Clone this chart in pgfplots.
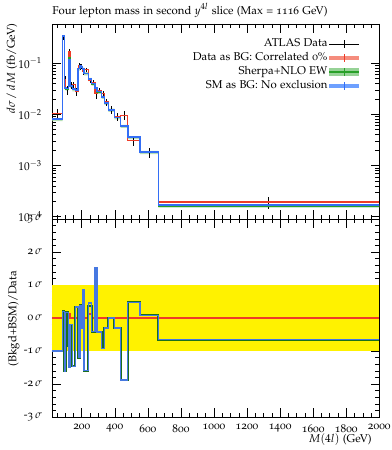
\documentclass[border=0pt]{standalone}
\usepackage[T1]{fontenc}
\usepackage[osf]{mathpazo}
\usepackage{pgfplots}
\usepackage{pgfplotstable}
\pgfplotsset{compat=1.18}
\usepgfplotslibrary{fillbetween}
\definecolor{myred}{RGB}{238,60,40}
\definecolor{mylightred}{RGB}{245,140,125}
\definecolor{myblue}{RGB}{51,110,245}
\definecolor{mylightblue}{RGB}{110,160,255}
\definecolor{mygreen}{RGB}{40,160,40}
\definecolor{mybandgreen}{RGB}{150,210,150}

\pgfplotstableread{
lo data red green blue
20 0.0103 0.0105 0.0079 0.0081
84 0.32 0.33 0.33 0.34
95 0.046 0.048 0.033 0.033
103 0.030 0.030 0.031 0.032
119 0.16 0.165 0.13 0.115
129 0.037 0.037 0.035 0.036
143 0.038 0.038 0.030 0.031
161 0.028 0.028 0.029 0.030
179 0.09 0.09 0.077 0.078
189 0.084 0.084 0.086 0.088
195 0.087 0.087 0.082 0.084
205 0.068 0.069 0.076 0.077
214 0.074 0.075 0.062 0.063
240 0.046 0.046 0.048 0.049
260 0.042 0.042 0.039 0.040
280 0.025 0.025 0.032 0.033
292 0.029 0.029 0.027 0.028
320 0.025 0.025 0.0215 0.022
337 0.0175 0.0175 0.0165 0.0168
361 0.0122 0.0122 0.012 0.0122
397 0.0089 0.0089 0.0085 0.0086
435 0.0096 0.0096 0.0058 0.0059
478 0.0031 0.0031 0.0035 0.0036
552 0.0018 0.0018 0.0018 0.00185
663 0.00019 0.000193 0.000162 0.000168
2000 0.00019 0.000193 0.000162 0.000168
}\toptab

\pgfplotstableread{
c v xe ye
52 0.0103 32 0.0022
89.5 0.32 5.5 0.04
99 0.046 4 0.009
111 0.030 8 0.006
124 0.16 5 0.03
136 0.037 7 0.006
152 0.038 9 0.005
170 0.028 9 0.005
184 0.09 5 0.011
192 0.084 3 0.011
200 0.087 5 0.011
209.5 0.068 4.5 0.01
227 0.074 13 0.007
250 0.046 10 0.006
270 0.042 10 0.005
286 0.025 6 0.005
306 0.029 14 0.0035
328.5 0.025 8.5 0.0035
349 0.0175 12 0.0027
379 0.0122 18 0.002
416 0.0089 19 0.0015
456.5 0.0096 21.5 0.002
515 0.0031 37 0.0007
607.5 0.0018 55.5 0.0004
1331.5 0.00019 668.5 0.00005
}\datatab

\pgfplotstableread{
lo blue green red
20 -1.0 -1.0 0
84 0.2 0.2 0
95 -1.63 -1.6 0
103 0.17 0.17 0
119 -1.48 -0.85 0.12
129 -0.2 -0.2 0
143 -1.46 -1.46 0
161 0.33 0.33 0
179 -1.18 -1.2 0
189 0.38 0.38 0
195 -0.3 -0.3 0
205 0.87 0.65 0.12
214 -1.6 -1.6 0
240 0.45 0.35 0.12
260 -0.41 -0.41 0
280 1.53 1.53 0
292 -0.42 -0.42 0
320 -0.92 -0.92 0
337 -0.3 -0.3 0
361 0.0 0.0 0
397 -0.3 -0.3 0
435 -1.88 -1.88 0
478 0.47 0.47 0
552 0.08 0.08 0
663 -0.66 -0.66 0
2000 -0.66 -0.66 0
}\pulltab

\begin{document}
\begin{tikzpicture}[font=\fontsize{8.5}{10}\selectfont]
\pgfplotsset{
  common/.style={
    scale only axis, width=245.5pt, xmin=20, xmax=2000,
    tick align=inside, xtick pos=both, ytick pos=both,
    major tick length=6.5pt, minor tick length=3.3pt,
    tick style={black, line width=0.4pt},
    axis line style={line width=0.5pt},
    xtick={200,400,...,2000}, minor xtick={50,100,...,2000},
    tick label style={font=\fontsize{8.5}{10}\selectfont},
    yticklabel style={xshift=-4pt},
  },
}
\begin{axis}[common, at={(39pt,-164.25pt)}, anchor=south west, height=146.25pt,
  ymode=log, ymin=9e-5, ymax=0.58, xticklabels={},
  ytick={1e-4,1e-3,1e-2,1e-1},
  legend style={at={(0.952,0.948)}, anchor=north east,
    draw=none, fill=none, font=\fontsize{8.5}{10}\selectfont, row sep=0.2pt,
    nodes={inner sep=1pt, text height=6.3pt, text depth=2pt}},
  legend cell align=right, legend plot pos=right]
\addplot[forget plot, draw=none, mark=none, error bars/.cd, x dir=both, x explicit, y dir=both, y explicit, error mark=none, error bar style={draw=black, line width=0.6pt}] table[x=c, y=v, x error=xe, y error=ye] {\datatab};
\addplot[forget plot, myred, line width=0.9pt, const plot mark left] table[x=lo, y=red] {\toptab};
\addplot[forget plot, name path=gu, draw=none, const plot mark left] table[x=lo, y expr=\thisrow{green}*1.07] {\toptab};
\addplot[forget plot, name path=gl, draw=none, const plot mark left] table[x=lo, y expr=\thisrow{green}*0.93] {\toptab};
\addplot[forget plot, mybandgreen, opacity=0.7] fill between[of=gu and gl];
\addplot[forget plot, mygreen, line width=0.9pt, const plot mark left] table[x=lo, y=green] {\toptab};
\addplot[forget plot, myblue, line width=1.2pt, const plot mark left] table[x=lo, y=blue] {\toptab};
\addlegendimage{legend image code/.code={\draw[black, line width=0.6pt] (0pt,0pt) -- (22pt,0pt); \draw[black, line width=0.6pt] (11pt,-3pt) -- (11pt,3pt);}}
\addlegendentry{ATLAS Data}
\addlegendimage{legend image code/.code={\fill[mylightred] (0pt,-0.9pt) rectangle (22pt,0.9pt); \draw[myred, line width=0.6pt] (11pt,-3pt) -- (11pt,3pt);}}
\addlegendentry{Data as BG: Correlated 0\%}
\addlegendimage{legend image code/.code={\fill[mybandgreen] (0pt,-2.6pt) rectangle (22pt,2.6pt); \draw[mygreen, line width=0.9pt] (0pt,0pt) -- (22pt,0pt); \draw[mygreen, line width=0.6pt] (11pt,-3pt) -- (11pt,3pt);}}
\addlegendentry{Sherpa+NLO EW}
\addlegendimage{legend image code/.code={\fill[mylightblue] (0pt,-0.9pt) rectangle (22pt,0.9pt); \draw[myblue, line width=0.6pt] (11pt,-3pt) -- (11pt,3pt);}}
\addlegendentry{SM as BG: No exclusion}
\end{axis}

\begin{axis}[common, at={(39pt,-164.25pt)}, anchor=north west, height=148.5pt,
  ymin=-3, ymax=3, ytick={-3,-2,-1,0,1,2,3},
  yticklabels={-3\,$\sigma$,-2\,$\sigma$,-1\,$\sigma$,0\,$\sigma$,1\,$\sigma$,2\,$\sigma$,3\,$\sigma$},
  minor ytick={-2.8,-2.6,-2.4,-2.2,-1.8,-1.6,-1.4,-1.2,-0.8,-0.6,-0.4,-0.2,0.2,0.4,0.6,0.8,1.2,1.4,1.6,1.8,2.2,2.4,2.6,2.8},
  xticklabels={200,400,600,800,1000,1200,1400,1600,1800,2000},
  xticklabel style={yshift=-2pt}]
\addplot[fill=yellow, draw=none] coordinates {(20,-1) (2000,-1) (2000,1) (20,1)} -- cycle;
\addplot[myred, line width=0.9pt, const plot mark left] table[x=lo, y=red] {\pulltab};
\addplot[mygreen!70!black, line width=1.5pt, const plot mark left] table[x=lo, y=green] {\pulltab};
\addplot[color={rgb,255:red,70;green,120;blue,225}, line width=1.0pt, const plot mark left] table[x=lo, y=blue] {\pulltab};
\end{axis}

\node[anchor=base west, inner sep=0] at (39pt,-10.5pt) {Four lepton mass in second $y^{4l}$ slice (Max = 1116 GeV)};
\node[rotate=90, anchor=east, inner sep=0] at (9pt,-17.5pt) {$d\sigma\,/\,dM$ (fb/GeV)};
\node[rotate=90, inner sep=0] at (10.5pt,-238.9pt) {(Bkgd+BSM)/Data};
\node[anchor=base east, inner sep=0] at (279pt,-331.5pt) {$M(4l)$ (GeV)};
\pgfresetboundingbox
\path (0,0) rectangle (294pt,-337.5pt);
\end{tikzpicture}
\end{document}
